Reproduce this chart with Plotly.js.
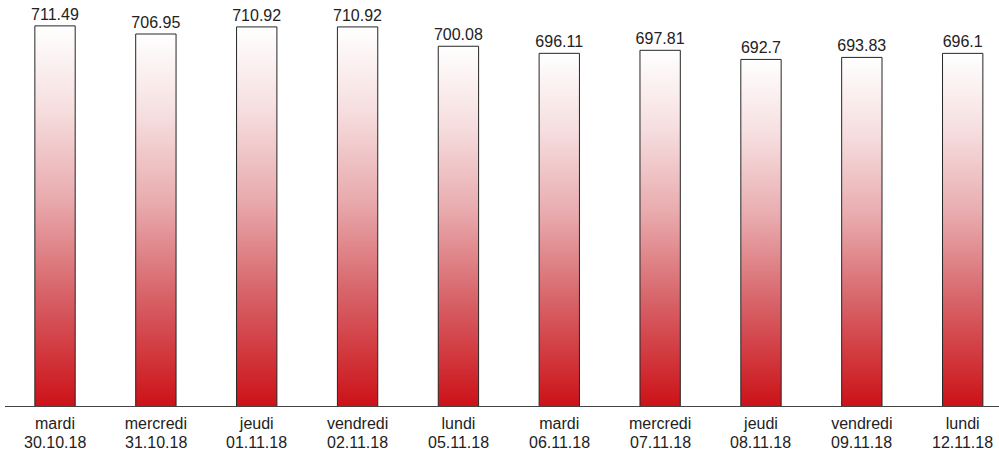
<!DOCTYPE html>
<html>
<head>
<meta charset="utf-8">
<script src="https://cdn.plot.ly/plotly-3.0.1.min.js"></script>
<style>
html,body{margin:0;padding:0;background:#fff;}
#chart{width:999px;height:454px;}
</style>
</head>
<body>
<div id="chart"></div>
<script>
const dayNames = ["mardi","mercredi","jeudi","vendredi","lundi","mardi","mercredi","jeudi","vendredi","lundi"];
const dates = ["30.10.18","31.10.18","01.11.18","02.11.18","05.11.18","06.11.18","07.11.18","08.11.18","09.11.18","12.11.18"];
const values = [711.49, 706.95, 710.92, 710.92, 700.08, 696.11, 697.81, 692.7, 693.83, 696.1];

const idx = values.map((v, i) => i);
const FONT = "Liberation Sans, Arial, sans-serif";

const trace = {
  type: "bar",
  x: idx,
  y: values,
  width: 0.4,
  marker: { color: "#cc1a1e", line: { color: "#262626", width: 1 } },
  text: values.map(v => String(v)),
  textposition: "outside",
  constraintext: "none",
  textfont: { family: FONT, size: 16, color: "#222" },
  cliponaxis: false,
  hoverinfo: "none"
};

const PLOT_H = 406;
const dateAnnotations = dates.map((d, i) => ({
  x: i, xref: "x",
  y: -(442.5 - PLOT_H) / PLOT_H, yref: "paper",
  yanchor: "middle", xanchor: "center",
  text: d, showarrow: false,
  font: { family: FONT, size: 16, color: "#222" }
}));

const layout = {
  width: 999,
  height: 454,
  margin: { l: 5, r: 0, t: 0, b: 48 },
  paper_bgcolor: "#fff",
  plot_bgcolor: "#fff",
  showlegend: false,
  xaxis: {
    range: [-0.496, 9.36],
    tickmode: "array",
    tickvals: idx,
    ticktext: dayNames,
    showline: true,
    linecolor: "#444",
    linewidth: 1,
    showgrid: false,
    zeroline: false,
    ticks: "",
    ticklabelstandoff: 3,
    tickfont: { family: FONT, size: 16, color: "#222" }
  },
  yaxis: {
    range: [498.5, 726],
    visible: false,
    showgrid: false,
    zeroline: false
  },
  annotations: dateAnnotations,
  font: { family: FONT }
};

function applyGradient(gd) {
  const svg = gd.querySelector(".main-svg");
  if (!svg) return;
  const ns = "http://www.w3.org/2000/svg";
  let defs = svg.querySelector("defs");
  if (!defs) { defs = document.createElementNS(ns, "defs"); svg.insertBefore(defs, svg.firstChild); }
  const bottom = gd._fullLayout.yaxis._length;
  const stops = [
    [0, "rgb(204,18,24)"],
    [0.3, "rgb(215,100,105)"],
    [0.55, "rgb(233,172,175)"],
    [0.78, "rgb(246,222,223)"],
    [1, "rgb(255,255,255)"]
  ];
  gd.querySelectorAll(".barlayer .point path").forEach((p, k) => {
    const bb = p.getBBox();
    const id = "barGrad" + k;
    const lg = document.createElementNS(ns, "linearGradient");
    lg.setAttribute("id", id);
    lg.setAttribute("gradientUnits", "userSpaceOnUse");
    lg.setAttribute("x1", "0"); lg.setAttribute("y1", String(bottom));
    lg.setAttribute("x2", "0"); lg.setAttribute("y2", String(bb.y));
    stops.forEach(s => {
      const st = document.createElementNS(ns, "stop");
      st.setAttribute("offset", s[0]);
      st.setAttribute("stop-color", s[1]);
      lg.appendChild(st);
    });
    defs.appendChild(lg);
    p.style.fill = "url(#" + id + ")";
    p.style.fillOpacity = "1";
  });
}

const gd = document.getElementById("chart");
Plotly.newPlot(gd, [trace], layout, { displayModeBar: false, staticPlot: true }).then(() => applyGradient(gd));
</script>
</body>
</html>
